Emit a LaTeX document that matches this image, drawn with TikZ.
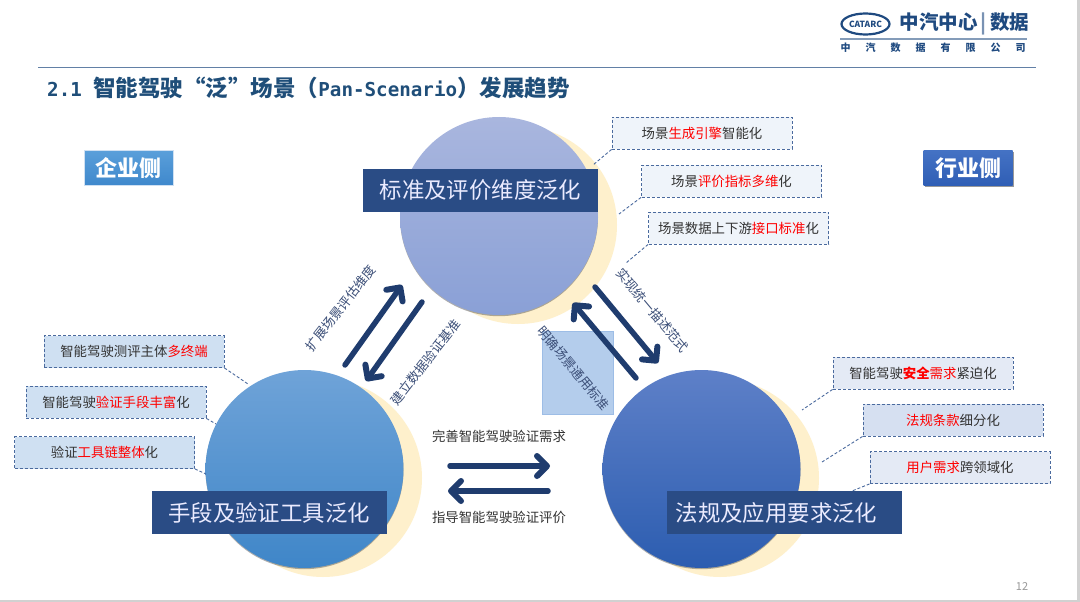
\documentclass[tikz,border=0pt]{standalone}
\usepackage{fontspec}
\setmainfont{Noto Sans CJK SC}
\newfontfamily\monof{DejaVu Sans Mono}
\usetikzlibrary{arrows.meta,shadows}
\definecolor{navy}{HTML}{1F3C6E}
\definecolor{labelnavy}{HTML}{2A4C85}
\definecolor{titleblue}{HTML}{1F4E79}
\definecolor{logoblue}{HTML}{1F4A80}
\definecolor{dashblue}{HTML}{4A6A9E}
\definecolor{halo}{HTML}{FEF0CC}
\definecolor{txtdark}{HTML}{333333}
\definecolor{flowtxt}{HTML}{3C4F78}
\definecolor{ctop}{HTML}{EFF4FA}
\definecolor{cleft}{HTML}{CFE0F2}
\definecolor{crighta}{HTML}{E4EAF5}
\definecolor{crightb}{HTML}{D6E0F1}
\definecolor{entT}{HTML}{5A9FDA}
\definecolor{entB}{HTML}{3F88CC}
\definecolor{indT}{HTML}{4472C4}
\definecolor{indB}{HTML}{2F5EB5}
\definecolor{topA}{HTML}{A9B6DE}
\definecolor{topB}{HTML}{9DADDB}
\definecolor{topC}{HTML}{8AA0D6}
\definecolor{leftA}{HTML}{6FA3D8}
\definecolor{leftB}{HTML}{5296D8}
\definecolor{leftC}{HTML}{3F86C8}
\definecolor{rightA}{HTML}{5E80C8}
\definecolor{rightB}{HTML}{3F6FC5}
\definecolor{rightC}{HTML}{2C5DB0}
\definecolor{sqfill}{HTML}{B4CDEC}
\definecolor{sqdraw}{HTML}{9DBDE6}
\newcommand{\hl}[1]{\textcolor{red}{#1}}
\tikzset{
  x=1pt,y=-1pt,
  bubble/.style={circle,minimum size=198pt,inner sep=0pt,drop shadow={shadow xshift=0pt,shadow yshift=-1.2pt,opacity=0.45,fill=black!70}},
  haloc/.style={circle,minimum size=198pt,inner sep=0pt,fill=halo},
  band/.style={fill=labelnavy,text=white!92!blue,minimum width=235pt,minimum height=43pt,inner sep=0pt,font=\fontsize{22.4}{25}\selectfont},
  callout/.style={draw=dashblue,densely dashed,line width=0.9pt,minimum width=180pt,minimum height=32pt,inner sep=0pt,text=txtdark,font=\fontsize{13.4}{15}\selectfont},
  leader/.style={draw=dashblue,densely dashed,line width=0.9pt},
  bigarrow/.style={draw=navy,line width=5.5pt,line cap=round,-{Straight Barb[length=10pt,width=20pt,line width=6pt,round]}},
  flowlabel/.style={text=flowtxt,inner sep=0pt,font=\fontsize{13}{15}\selectfont},
  sidebox/.style={minimum width=89pt,minimum height=35pt,inner sep=0pt,text=white,font=\bfseries\fontsize{22}{24}\selectfont}
}
\begin{document}
\begin{tikzpicture}
\useasboundingbox (0,0) rectangle (1080,602);
\fill[white] (0,0) rectangle (1080,602);
\fill[black!18] (1077,0) rectangle (1080,602);
\fill[black!18] (0,600) rectangle (1080,602);
% logo
\draw[logoblue,line width=2.2pt] (865.5,24) ellipse [x radius=24pt,y radius=10.5pt];
\node (logotxt) at (865.5,24) [inner sep=0pt,text=logoblue,font=\bfseries\fontsize{8.5}{9}\selectfont] {CATARC};
\node (logoname) at (964.5,24) [inner sep=0pt,text=logoblue,font=\bfseries\fontsize{19.5}{21}\selectfont] {中汽中心\,\textcolor{logoblue!60}{|}\,数据};
\draw[logoblue!55,line width=1.2pt] (840,39) -- (1027,39);
\node (logosub) at (933,48) [inner sep=0pt,text=logoblue,font=\bfseries\fontsize{10}{11}\selectfont] {中\hspace{15pt}汽\hspace{15pt}数\hspace{15pt}据\hspace{15pt}有\hspace{15pt}限\hspace{15pt}公\hspace{15pt}司};
% title
\draw[logoblue!70,line width=0.8pt] (38,67) -- (1036,67);
\node (title) at (47,88) [anchor=west,inner sep=0pt,text=titleblue,font=\bfseries\fontsize{22.5}{24}\selectfont] {{\monof\fontsize{19.2}{24}\selectfont 2.1 }智能驾驶“泛”场景（{\monof\fontsize{19.2}{24}\selectfont Pan-Scenario}）发展趋势};
% side boxes
\node (ent) at (128.5,168) [sidebox,top color=entT,bottom color=entB,draw=cleft] {企业侧};
\node (ind) at (968,168) [sidebox,top color=indT,bottom color=indB,drop shadow={shadow xshift=1pt,shadow yshift=-1.5pt,opacity=0.4,fill=black}] {行业侧};
% halos
\node (hT) at (518,225) [haloc] {};
\node (hL) at (323,478) [haloc] {};
\node (hR) at (720,478) [haloc] {};
% circles
\node (cT) at (499,216) [bubble,top color=topA,middle color=topB,bottom color=topC] {};
\node (cL) at (304.5,469) [bubble,top color=leftA,middle color=leftB,bottom color=leftC] {};
\node (cR) at (701.5,469) [bubble,top color=rightA,middle color=rightB,bottom color=rightC] {};
% bands
\node (bT) at (480.5,190) [band] {标准及评价维度泛化};
\node (bL) at (269,512.5) [band] {手段及验证工具泛化};
\node (bR) at (784.5,512.5) [band] {法规及应用要求泛化\hspace{16pt}\mbox{}};
% translucent square
\node (sq) at (577.5,372.5) [minimum width=71pt,minimum height=83pt,inner sep=0pt,fill=sqfill,draw=sqdraw,line width=0.6pt] {};
% arrows
\coordinate (a1s) at (345,365); \coordinate (a1e) at (402,285);
\coordinate (a2s) at (422,302); \coordinate (a2e) at (366,381);
\coordinate (a3s) at (595,287); \coordinate (a3e) at (658,363);
\coordinate (a4s) at (636,378); \coordinate (a4e) at (573,303);
\coordinate (a5s) at (450,466); \coordinate (a5e) at (550,466);
\coordinate (a6s) at (548,491); \coordinate (a6e) at (448,491);
\draw[bigarrow] (a1s) -- (a1e);
\draw[bigarrow] (a2s) -- (a2e);
\draw[bigarrow] (a3s) -- (a3e);
\draw[bigarrow] (a4s) -- (a4e);
\draw[bigarrow] (a5s) -- (a5e);
\draw[bigarrow] (a6s) -- (a6e);
% flow labels
\node (f1) at (341,308) [flowlabel,rotate=52] {扩展场景评估维度};
\node (f2) at (426,362) [flowlabel,rotate=52] {建立数据验证基准};
\node (f3) at (652.5,310) [flowlabel,rotate=-50] {实现统一描述范式};
\node (f4) at (573.5,368) [flowlabel,rotate=-50] {明确场景通用标准};
\node (f5) at (499,436) [flowlabel,text=txtdark,font=\fontsize{13.4}{15}\selectfont] {完善智能驾驶验证需求};
\node (f6) at (499,517) [flowlabel,text=txtdark,font=\fontsize{13.4}{15}\selectfont] {指导智能驾驶验证评价};
% callouts top
\node (t1) at (702,133) [callout,fill=ctop] {场景\hl{生成引擎}智能化};
\node (t2) at (731.5,181) [callout,fill=ctop] {场景\hl{评价指标多维}化};
\node (t3) at (738.5,228) [callout,fill=ctop] {场景数据上下游\hl{接口标准}化};
\coordinate (t1e) at (593,165); \coordinate (t2e) at (619,214); \coordinate (t3e) at (626,263);
\draw[leader] (t1.south west) -- (t1e);
\draw[leader] (t2.south west) -- (t2e);
\draw[leader] (t3.south west) -- (t3e);
% callouts left
\node (l1) at (134,351.5) [callout,fill=cleft] {智能驾驶测评主体\hl{多终端}};
\node (l2) at (116,402) [callout,fill=cleft] {智能驾驶\hl{验证手段丰富}化};
\node (l3) at (104.5,452.5) [callout,fill=cleft] {验证\hl{工具链整体}化};
\coordinate (l1e) at (248,384); \coordinate (l2e) at (216,424); \coordinate (l3e) at (206,474);
\draw[leader] (l1.south east) -- (l1e);
\draw[leader] (l2.south east) -- (l2e);
\draw[leader] (l3.south east) -- (l3e);
% callouts right
\node (r1) at (923,373) [callout,fill=crighta] {智能驾驶\textbf{\hl{安全}}\hl{需求}紧迫化};
\node (r2) at (953,420) [callout,fill=crightb] {\hl{法规条款}细分化};
\node (r3) at (960,467.5) [callout,fill=crighta] {\hl{用户需求}跨领域化};
\coordinate (r1e) at (802,410); \coordinate (r2e) at (822,462); \coordinate (r3e) at (852,491);
\draw[leader] (r1.south west) -- (r1e);
\draw[leader] (r2.south west) -- (r2e);
\draw[leader] (r3.south west) -- (r3e);
% page number
\node (pg) at (1022,587) [inner sep=0pt,text=black!40,font=\fontsize{11}{12}\selectfont] {12};
\end{tikzpicture}
\end{document}
